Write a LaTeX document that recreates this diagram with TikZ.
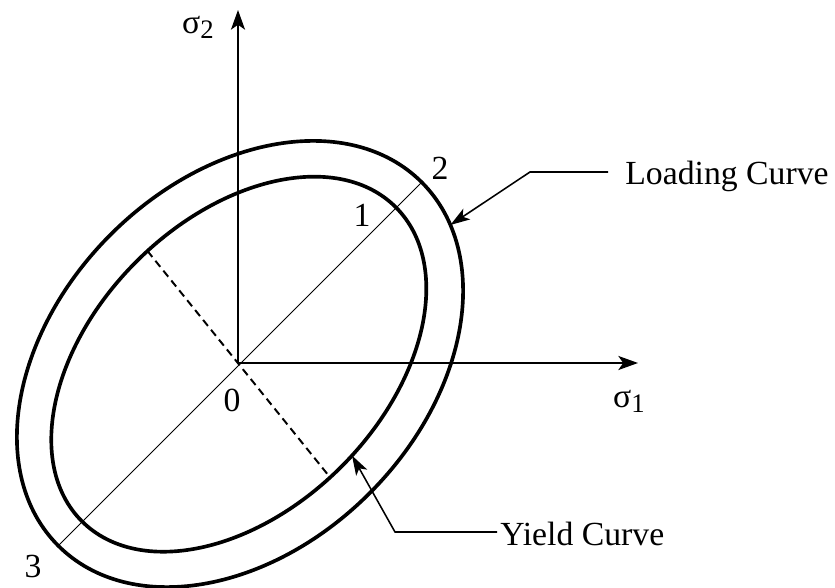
\documentclass[tikz,border=0pt]{standalone}
\usepackage{fontspec}
\setmainfont{Liberation Serif}
\usepackage{tikz}
\usetikzlibrary{arrows.meta,positioning,calc}

\newcommand{\sig}[1]{σ\raisebox{-0.15em}{\fontsize{19}{19}\selectfont #1}}

\begin{document}
\begin{tikzpicture}[
    curve/.style={line width=2.6pt},
    axis/.style={line width=1.4pt, -{Stealth[length=14pt, width=10pt, inset=3.5pt]}},
    diag/.style={line width=0.75pt},
    minor/.style={line width=1.4pt, dash pattern=on 5.5pt off 3.5pt},
    pointer/.style={line width=1.1pt, -{Stealth[length=14pt, width=9pt, inset=3.5pt]}},
    lbl/.style={font=\fontsize{24}{28}\selectfont, inner sep=0pt}
]
\useasboundingbox (-5.95,-5.625) rectangle (14.925,9.075);

\coordinate (O) at (0,0);
\coordinate (s1tip) at (10,0);
\coordinate (s2tip) at (0,8.825);

% yield curve (inner)
\begin{scope}[shift={(0.02,-0.03)}, rotate=45]
  \draw[curve] (0,0) ellipse (5.55cm and 3.625cm);
  \coordinate (p1) at (0:5.55cm and 3.625cm);
  \coordinate (mtop) at (86:5.55cm and 3.625cm);
  \coordinate (mbot) at (266:5.55cm and 3.625cm);
  \coordinate (yltip) at (-86:5.55cm and 3.625cm);
\end{scope}

% loading curve (outer)
\begin{scope}[shift={(0.05,-0.025)}, rotate=45]
  \draw[curve] (0,0) ellipse (6.425cm and 4.575cm);
  \coordinate (p2) at (0:6.425cm and 4.575cm);
  \coordinate (p3) at (180:6.425cm and 4.575cm);
  \coordinate (ldtip) at (-16:6.425cm and 4.575cm);
\end{scope}

\draw[diag] (p3) -- (p2);
\draw[minor] (mtop) -- (mbot);

\draw[axis] (O) -- (s1tip);
\draw[axis] (O) -- (s2tip);

\node[lbl] (s1) at (9.775,-0.95) {\sig{1}};
\node[lbl] (s2) at (-1.0,8.4) {\sig{2}};
\node[lbl] (n0) at (-0.15,-0.925) {0};
\node[lbl] (n1) at (3.1,3.7) {1};
\node[lbl] (n2) at (5.05,4.875) {2};
\node[lbl] (n3) at (-5.125,-5.075) {3};

\node[lbl, anchor=base west] (load) at (9.675,4.45) {Loading Curve};
\node[lbl, anchor=base west] (yield) at (6.55,-4.55) {Yield Curve};

\draw[pointer] ($(load.base west)+(-0.425,0.325)$) -- ++(-1.95,0) -- (ldtip);
\draw[pointer] ($(yield.base west)+(-0.075,0.325)$) -- ++(-2.55,0) -- (yltip);

\end{tikzpicture}
\end{document}
